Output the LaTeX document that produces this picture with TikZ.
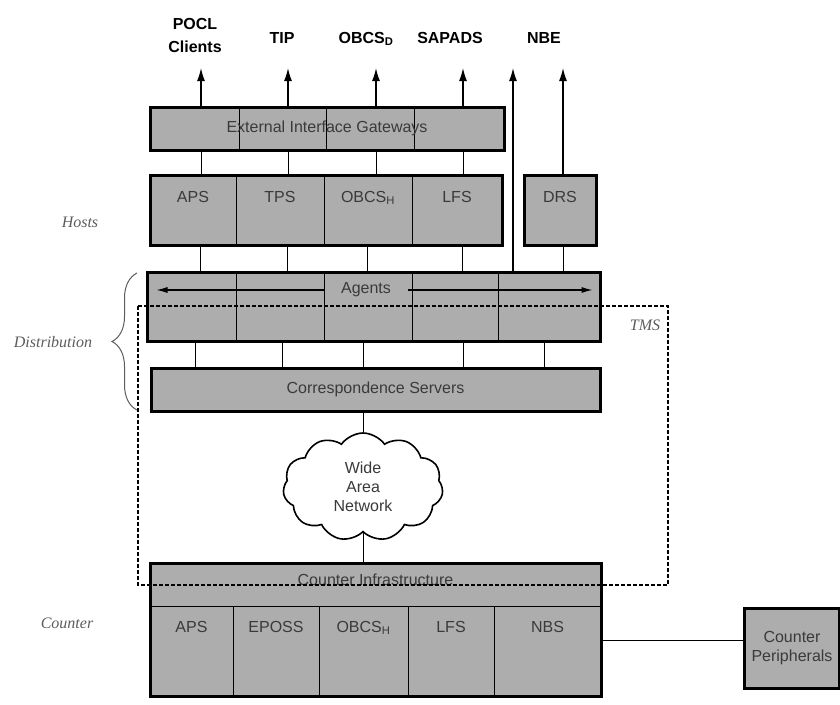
\documentclass[tikz,border=0pt]{standalone}
\usepackage{fontspec}
\setmainfont{Liberation Sans}
\newfontfamily\notefont{Liberation Serif}
\usepackage{xcolor}
\usepackage{tikz}
\usetikzlibrary{arrows.meta,
positioning,
fit,
shapes.symbols,
decorations.pathreplacing,
calc}
\definecolor{boxgray}{HTML}{ADADAD}
\definecolor{labgray}{HTML}{3A3A3A}
\definecolor{notegray}{HTML}{5C5C5C}
\newcommand{\labfont}{\fontsize{16}{19}\selectfont}

\begin{document}
\begin{tikzpicture}[
				x=1pt, y=-1pt,
				cell/.style={
					draw,
					line width=0.9pt,
					fill=boxgray,
					text=labgray,
					inner sep=0pt,
					outer sep=0pt,
					anchor=north west,
					font=\labfont
				},
				gwcell/.style={cell, minimum height=43pt},
				hostcell/.style={cell, minimum height=70pt, text height=27pt, text depth=43pt},
				agentcell/.style={cell, minimum height=69pt},
				ctrcell/.style={cell, minimum height=90pt, text height=26pt, text depth=64pt},
				frame/.style={draw, line width=3pt, inner sep=0pt},
				plain/.style={text=labgray, font=\labfont, inner sep=0pt},
				toplabel/.style={font=\bfseries\fontsize{16}{23}\selectfont, align=center, inner sep=0pt},
				note/.style={text=notegray, font=\notefont\itshape\labfont, inner sep=0pt},
				link/.style={line width=1pt},
				uplink/.style={line width=1.3pt, -{Latex[length=13pt,width=8pt]}},
				agarrow/.style={line width=1.1pt, -{Latex[length=11pt,width=6pt]}},
				brace/.style={draw=notegray, line width=1pt, decorate, decoration={brace, amplitude=25pt}},
				tms/.style={line width=2.2pt, dash pattern=on 4pt off 2pt}
				]
				\useasboundingbox (0,0) rectangle (840,704);
				
				% gateways
				\node[gwcell, minimum width=89pt] (gw1) at (150,107) {};
				\node[gwcell, minimum width=87pt, right=0pt of gw1] (gw2) {};
				\node[gwcell, minimum width=88pt, right=0pt of gw2] (gw3) {};
				\node[gwcell, minimum width=90pt, right=0pt of gw3] (gw4) {};
				\node[frame, fit=(gw1)(gw4)] (gw) {};
				\node[plain] (gwlbl) at (gw.center) {External Interface Gateways};
				
				% hosts
				\node[hostcell, minimum width=86pt] (h1) at (150,175) {APS};
				\node[hostcell, minimum width=88pt, right=0pt of h1] (h2) {TPS};
				\node[hostcell, minimum width=88pt, right=0pt of h2] (h3) {OBCS\textsubscript{H}};
				\node[hostcell, minimum width=90pt, right=0pt of h3] (h4) {LFS};
				\node[frame, fit=(h1)(h4)] (hosts) {};
				\node[hostcell, line width=3pt, minimum width=72pt] (drs) at (524,175) {DRS};
				
				% agents
				\node[agentcell, minimum width=89pt] (a1) at (147,272) {};
				\node[agentcell, minimum width=88pt, right=0pt of a1] (a2) {};
				\node[agentcell, minimum width=88pt, right=0pt of a2] (a3) {};
				\node[agentcell, minimum width=86pt, right=0pt of a3] (a4) {};
				\node[agentcell, minimum width=102pt, right=0pt of a4] (a5) {};
				\node[frame, fit=(a1)(a5)] (agents) {};
				\node[plain, minimum width=83pt] (aglbl) at (366,290) {Agents};
				\draw[agarrow] (aglbl.west) -- ($(agents.west |- aglbl.west)+(11,0)$);
				\draw[agarrow] (aglbl.east) -- ($(agents.east |- aglbl.east)+(-9,0)$);
				
				% correspondence servers
				\node[gwcell, line width=3pt, minimum width=449pt] (cs) at (151,368) {Correspondence Servers};
				
				\node[cloud, draw, line width=1.6pt, fill=white, cloud puffs=11, cloud puff arc=110,
				aspect=1.5, minimum width=160pt, minimum height=108pt, align=center,
				text=labgray, font=\labfont, inner sep=0pt] (wan) at (363,487) {Wide\\Area\\Network};
				
				% counter
				\node[gwcell, minimum width=451pt, text height=12pt, text depth=10pt] (ci) at (150,563) {Counter Infrastructure};
				\node[ctrcell, minimum width=83pt] (c1) at (150,606) {APS};
				\node[ctrcell, minimum width=86pt, right=0pt of c1] (c2) {EPOSS};
				\node[ctrcell, minimum width=89pt, right=0pt of c2] (c3) {OBCS\textsubscript{H}};
				\node[ctrcell, minimum width=86pt, right=0pt of c3] (c4) {LFS};
				\node[ctrcell, minimum width=107pt, right=0pt of c4] (c5) {NBS};
				\node[frame, fit=(ci)(c1)(c5)] (counter) {};
				\node[frame, fill=boxgray, text=labgray, font=\labfont, align=center, inner sep=0pt,
				minimum width=95pt, minimum height=80pt, anchor=north west] (periph) at (743,607) {Counter\\Peripherals};
				
				% external systems
				\node[toplabel] (pocl) at (195,35) {POCL\\Clients};
				\node[toplabel, anchor=base] (tip) at (282,43) {TIP};
				\node[toplabel, anchor=base] (obcsd) at (366,43) {OBCS\textsubscript{D}};
				\node[toplabel, anchor=base] (sapads) at (450,43) {SAPADS};
				\node[toplabel, anchor=base] (nbe) at (544,43) {NBE};
				
				% links
				\foreach \x in {201,288,376,463}
				\draw[uplink] (gw.north -| \x,0) -- (\x,68);
				\foreach \x in {201,288,376,463}
				\draw[link] (hosts.north -| \x,0) -- (gw.south -| \x,0);
				\foreach \x in {200,287,367,462}
				\draw[link] (agents.north -| \x,0) -- (hosts.south -| \x,0);
				\draw[uplink] (agents.north -| 513,0) -- (513,68);
				\draw[uplink] (drs.north -| 563,0) -- (563,68);
				\draw[link] (drs.south -| 563,0) -- (agents.north -| 563,0);
				\foreach \x in {195,282,363,463,544}
				\draw[link] (cs.north -| \x,0) -- (agents.south -| \x,0);
				\draw[link] (cs.south -| wan.north) -- (wan.north);
				\draw[link] (wan.south) -- (counter.north -| wan.south);
				\draw[link] (counter.east |- 0,640) -- (periph.west |- 0,640);
				
				% layer notes
				\node[note] (hostsnote) at (80,222) {Hosts};
				\node[note] (distnote) at (53,342) {Distribution};
				\node[note] (ctrnote) at (67,623) {Counter};
				\draw[brace] (137,410) -- (137,273);
				
				% tms region
				\draw[tms] (138,306) rectangle (668,585);
				\node[note] (tmsnote) at (645,325) {TMS};
			\end{tikzpicture}
\end{document}
